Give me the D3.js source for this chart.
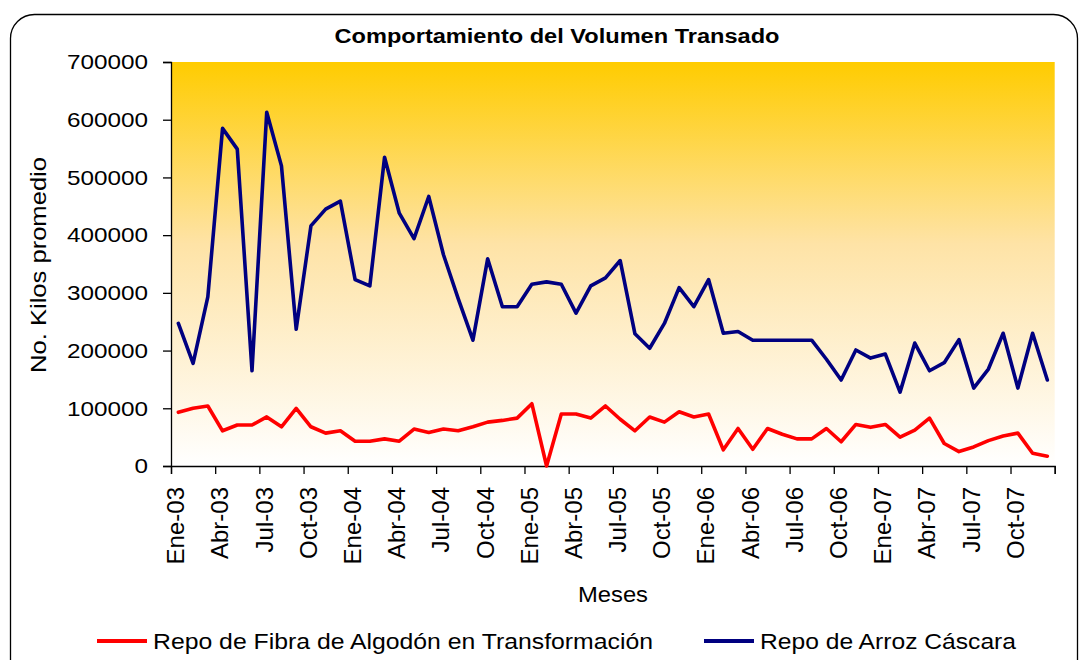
<!DOCTYPE html>
<html>
<head>
<meta charset="utf-8">
<script src="https://cdn.jsdelivr.net/npm/d3@7"></script>
<style>
  html, body { margin: 0; padding: 0; background: #ffffff; }
  svg { display: block; font-family: "Liberation Sans", Arial, sans-serif; }
</style>
</head>
<body>
<svg id="chart" width="1088" height="660"></svg>
<script>
// ---- Data ----
const monthNames = ["Ene","Feb","Mar","Abr","May","Jun","Jul","Ago","Sep","Oct","Nov","Dic"];
const years = ["03","04","05","06","07"];
const categories = [];
years.forEach(y => monthNames.forEach(m => categories.push(m + "-" + y)));

const tickLabels = ["Ene-03","Abr-03","Jul-03","Oct-03","Ene-04","Abr-04","Jul-04","Oct-04",
  "Ene-05","Abr-05","Jul-05","Oct-05","Ene-06","Abr-06","Jul-06","Oct-06",
  "Ene-07","Abr-07","Jul-07","Oct-07"];

const yTicks = [0,100000,200000,300000,400000,500000,600000,700000];

const arroz = [247000,178000,293000,585000,549000,165000,613000,520000,237000,416000,
  445000,459000,323000,312000,535000,438000,394000,467000,366000,290000,
  218000,359000,276000,276000,315000,319000,315000,265000,312000,326000,
  356000,229000,204000,247000,309000,276000,323000,230000,233000,218000,
  218000,218000,218000,218000,185000,149000,201000,187000,194000,128000,
  213000,165000,179000,219000,135000,168000,230000,135000,230000,149000];

const algodon = [93000,100000,104000,61000,71000,71000,85000,68000,100000,68000,
  57000,61000,43000,43000,47000,43000,64000,58000,64000,61000,
  68000,76000,79000,83000,108000,0,90000,90000,83000,104000,
  81000,61000,85000,76000,94000,85000,90000,28000,65000,29000,
  65000,55000,47000,47000,65000,42000,72000,67000,72000,50000,
  62000,83000,39000,25000,33000,44000,52000,57000,22000,17000];

const seriesNames = ["Repo de Fibra de Algodón en Transformación","Repo de Arroz Cáscara"];
const seriesColors = ["#ff0000","#000080"];

// ---- Layout ----
const svg = d3.select("#chart");
const plot = {left: 171, right: 1054.7, top: 62, bottom: 466};

// outer rounded frame
svg.append("rect")
  .attr("x", 10.5).attr("y", 14.5)
  .attr("width", 1067).attr("height", 700)
  .attr("rx", 24).attr("ry", 24)
  .attr("fill", "#ffffff").attr("stroke", "#000").attr("stroke-width", 1.3);

// gradient
const defs = svg.append("defs");
const grad = defs.append("linearGradient").attr("id","bg")
  .attr("x1","0").attr("y1","0").attr("x2","0").attr("y2","1");
grad.append("stop").attr("offset","0%").attr("stop-color","#ffcc00");
grad.append("stop").attr("offset","45%").attr("stop-color","#fee3a6");
grad.append("stop").attr("offset","100%").attr("stop-color","#ffffff");

svg.append("rect")
  .attr("x", plot.left).attr("y", plot.top)
  .attr("width", plot.right - plot.left).attr("height", plot.bottom - plot.top)
  .attr("fill", "url(#bg)");

// scales
const x = d3.scaleBand().domain(categories).range([plot.left, plot.right]).padding(0);
const xIdx = d3.scaleLinear().domain([0, categories.length]).range([plot.left, plot.right]);
const y = d3.scaleLinear().domain([0, 700000]).range([plot.bottom, plot.top]);
const cx = c => x(c) + x.bandwidth() / 2;

// y axis
const yAxis = svg.append("g")
  .attr("transform", `translate(${plot.left},0)`)
  .call(d3.axisLeft(y).tickValues(yTicks).tickSize(8).tickPadding(15).tickFormat(d3.format("d")));
yAxis.select(".domain").attr("stroke","#000").attr("stroke-width",1.3);
yAxis.selectAll(".tick line").attr("stroke","#000").attr("stroke-width",1.3);
yAxis.selectAll(".tick text")
  .attr("font-size", 21).attr("fill","#000")
  .attr("font-family", '"Liberation Sans", Arial, sans-serif')
  .attr("textLength", d => String(d).length * 13.5)
  .attr("lengthAdjust", "spacingAndGlyphs");

// x axis (ticks at category boundaries every 3 months)
const xTickVals = d3.range(0, categories.length + 1, 3);
const xAxis = svg.append("g")
  .attr("transform", `translate(0,${plot.bottom})`)
  .call(d3.axisBottom(xIdx).tickValues(xTickVals).tickSize(8).tickFormat(""));
xAxis.select(".domain").attr("stroke","#000").attr("stroke-width",1.3);
xAxis.selectAll(".tick line").attr("stroke","#000").attr("stroke-width",1.3);

// x labels
svg.append("g").selectAll("text")
  .data(tickLabels)
  .join("text")
  .attr("transform", d => `translate(${cx(d) - 2.5},487) rotate(-90)`)
  .attr("text-anchor", "end")
  .attr("dy", "0.35em")
  .attr("font-size", 24)
  .attr("fill", "#000")
  .text(d => d);

// lines
const line = d3.line().x((d, i) => cx(categories[i])).y(d => y(d));
[algodon, arroz].forEach((s, k) => {
  svg.append("path")
    .datum(s)
    .attr("d", line)
    .attr("fill", "none")
    .attr("stroke", seriesColors[k])
    .attr("stroke-width", 3.6)
    .attr("stroke-linejoin", "round")
    .attr("stroke-linecap", "round");
});

// title
svg.append("text")
  .attr("x", 557).attr("y", 43)
  .attr("text-anchor","middle")
  .attr("font-weight","bold")
  .attr("font-size", 20)
  .attr("textLength", 445).attr("lengthAdjust","spacingAndGlyphs")
  .text("Comportamiento del Volumen Transado");

// y title
svg.append("text")
  .attr("transform", "translate(46,265) rotate(-90)")
  .attr("text-anchor","middle")
  .attr("font-size", 22)
  .attr("textLength", 216).attr("lengthAdjust","spacingAndGlyphs")
  .text("No. Kilos promedio");

// x title
svg.append("text")
  .attr("x", 613).attr("y", 602)
  .attr("text-anchor","middle")
  .attr("font-size", 22)
  .attr("textLength", 70).attr("lengthAdjust","spacingAndGlyphs")
  .text("Meses");

// legend
const legendItems = [
  {x1: 97, x2: 147, tx: 153, tl: 500},
  {x1: 704, x2: 754, tx: 760, tl: 256}
];
legendItems.forEach((it, k) => {
  svg.append("line")
    .attr("x1", it.x1).attr("x2", it.x2).attr("y1", 641).attr("y2", 641)
    .attr("stroke", seriesColors[k]).attr("stroke-width", 4);
  svg.append("text")
    .attr("x", it.tx).attr("y", 649)
    .attr("font-size", 22)
    .attr("textLength", it.tl).attr("lengthAdjust","spacingAndGlyphs")
    .text(seriesNames[k]);
});
</script>
</body>
</html>
